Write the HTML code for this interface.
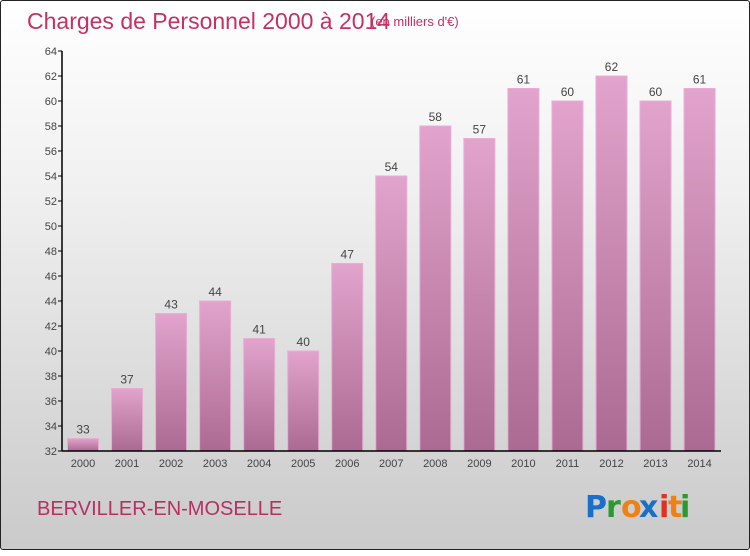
<!DOCTYPE html>
<html><head><meta charset="utf-8"><style>
html,body{margin:0;padding:0;}
body{width:750px;height:550px;overflow:hidden;font-family:"Liberation Sans",sans-serif;}
#frame{position:absolute;left:0;top:0;width:748px;height:548px;border:1px solid #222;border-radius:3px;background:linear-gradient(#ffffff 0%,#f0f0f0 35%,#d8d8d8 75%,#cacaca 100%);}
</style></head><body>
<div id="frame">
<svg id="chart" width="750" height="550">
<defs>
<linearGradient id="bg" x1="0" y1="0" x2="0" y2="1">
<stop offset="0" stop-color="#e2a4cc"/><stop offset="1" stop-color="#ab6a92"/>
</linearGradient>
</defs>
<text x="26" y="28" font-size="23" fill="#c8305f">Charges de Personnel 2000 à 2014</text>
<text x="370" y="25" font-size="13" fill="#c8305f">(en milliers d'€)</text>
<text x="36" y="514" font-size="20" fill="#b83060">BERVILLER-EN-MOSELLE</text>
<g font-size="30" font-family="'DejaVu Sans',sans-serif" font-weight="bold">
<text x="584" y="516" fill="#1a6fc8">P</text><text x="605" y="516" fill="#2a9a30">r</text><text x="620" y="516" fill="#f08010">o</text><text x="638" y="516" fill="#1a6fc8">x</text><text x="658" y="516" fill="#e03020">i</text><text x="667" y="516" fill="#f08010">t</text><text x="679" y="516" fill="#2a9a30">i</text>
</g>
<g id="plot"></g>
</svg>
</div>
<script>
const categories=["2000","2001","2002","2003","2004","2005","2006","2007","2008","2009","2010","2011","2012","2013","2014"];
const values=[33,37,43,44,41,40,47,54,58,57,61,60,62,60,61];
const yTicks=[32,34,36,38,40,42,44,46,48,50,52,54,56,58,60,62,64];
const NS="http://www.w3.org/2000/svg";
const g=document.getElementById('plot');
const x0=61,x1=720,yMin=32,yMax=64,yTop=50,yBot=450;
const y=v=>yBot-(v-yMin)/(yMax-yMin)*(yBot-yTop);
const step=44.04,first=82;
const xc=i=>first+i*step;
function mk(t,a){const e=document.createElementNS(NS,t);for(const k in a)e.setAttribute(k,a[k]);g.appendChild(e);return e;}
values.forEach((v,i)=>{
 const r=mk('rect',{x:xc(i)-15.5,y:y(v),width:31,height:yBot-y(v),fill:'url(#bg)',stroke:'#e8aed2','stroke-width':1});
 
 
 const t=mk('text',{x:xc(i),y:y(v)-5,'text-anchor':'middle','font-size':12,fill:'#444'});
 t.textContent=v;
 
 
 const c=mk('text',{x:xc(i),y:466,'text-anchor':'middle','font-size':11,fill:'#444'});
 c.textContent=categories[i];
 
 
});
yTicks.forEach(v=>{
 const l=mk('line',{x1:x0-4,x2:x0,y1:y(v),y2:y(v),stroke:'#000'});
 
 
 const t=mk('text',{x:x0-5,y:y(v)+4,'text-anchor':'end','font-size':11,fill:'#444'});
 t.textContent=v;
 
 
});
const ya=mk('line',{x1:x0,x2:x0,y1:yTop,y2:yBot,stroke:'#000','stroke-width':1.5});


const xa=mk('line',{x1:x0,x2:x1,y1:yBot,y2:yBot,stroke:'#000','stroke-width':1.5});


</script>
</body></html>
